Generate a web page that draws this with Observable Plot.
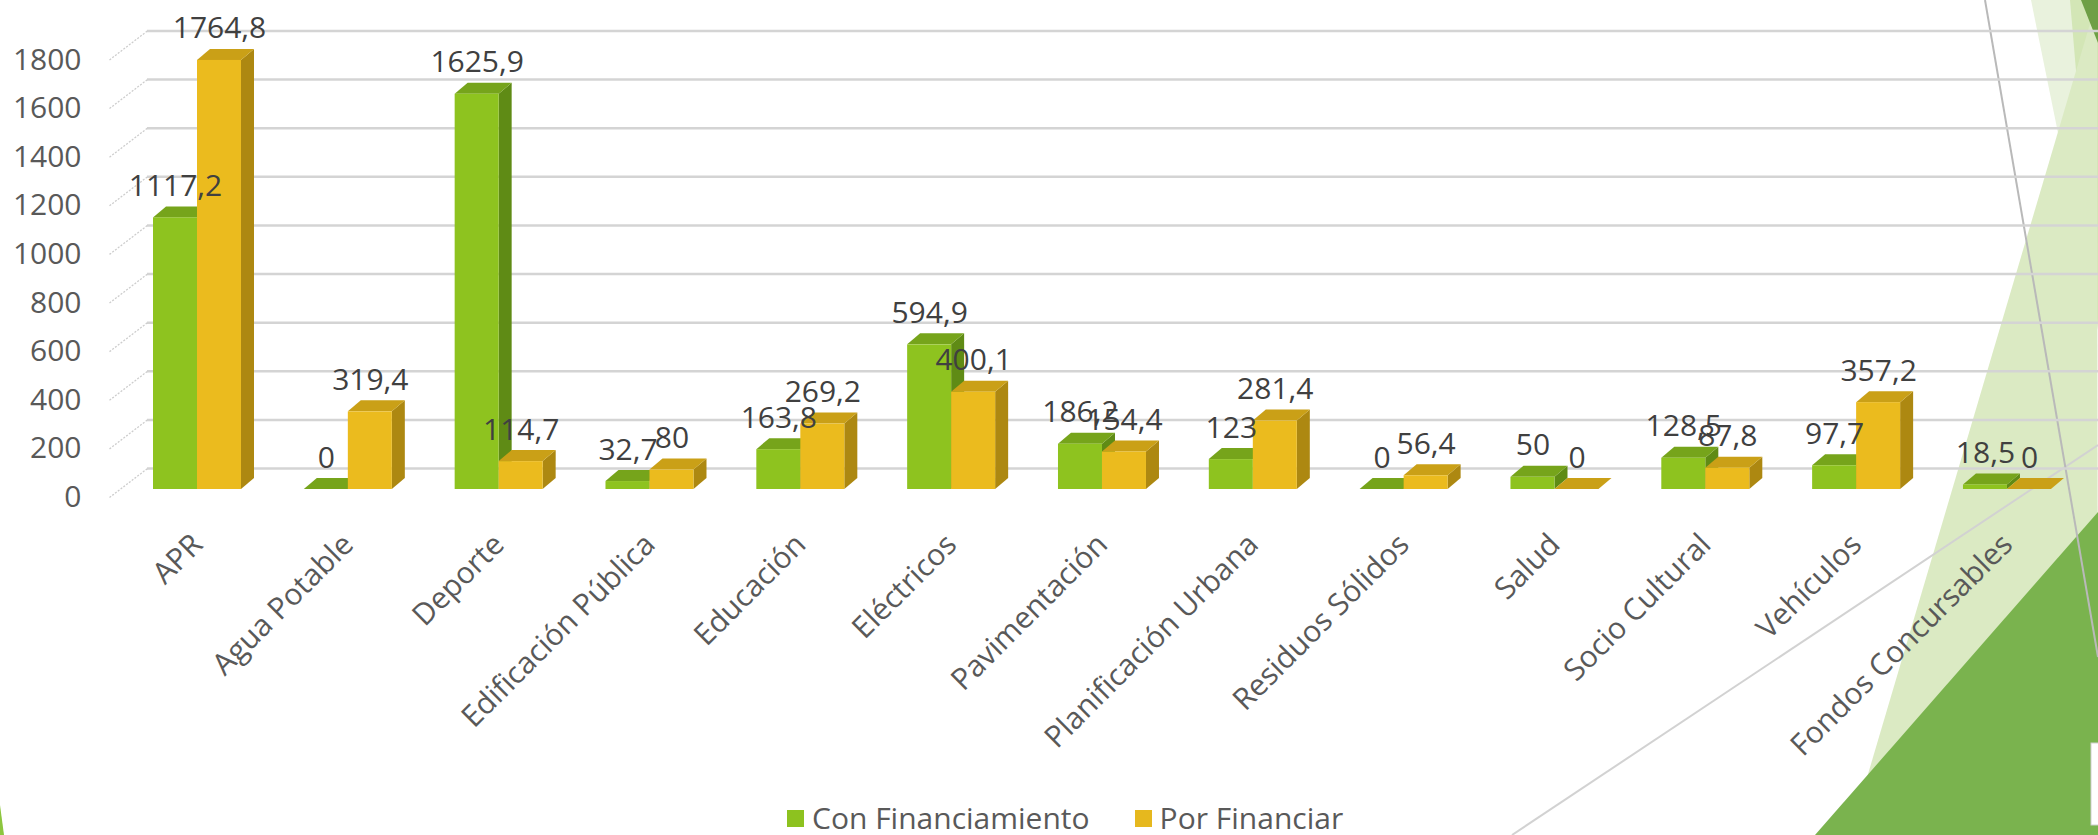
<!DOCTYPE html>
<html><head><meta charset="utf-8">
<script src="https://cdn.jsdelivr.net/npm/d3@7"></script>
<script src="https://cdn.jsdelivr.net/npm/@observablehq/plot@0.6"></script>
<style>
html,body{margin:0;padding:0;background:#fff;overflow:hidden;width:2098px;height:835px;}
#wrap{position:relative;width:2098px;height:835px;font-family:'Open Sans',sans-serif;}
#deco{position:absolute;left:0;top:0;}
#chart{position:absolute;left:0;top:0;}
#legend{position:absolute;left:787px;top:802px;display:flex;align-items:center;height:32px;line-height:32px;font-size:30px;color:#595959;white-space:nowrap;}
#legend .sw{width:17px;height:17px;margin-right:8px;}
#legend .item{display:flex;align-items:center;}
#legend .item + .item{margin-left:45px;}
</style></head>
<body>
<div id="wrap">
<svg id="deco" width="2098" height="835" viewBox="0 0 2098 835">
  <polygon points="2031,0 2098,0 2098,330" fill="#e9f2dd"/>
  <polygon points="2070,0 2098,0 2098,330" fill="#d3e6b6"/>
  <polygon points="2097,0 1850,835 2098,835" fill="#dbeac3"/>
  <polygon points="2081,0 2098,0 2098,43" fill="#6e9f45"/>
  <polygon points="1815,835 2098,512 2098,835" fill="#7ab34e"/>
  <line x1="1512" y1="835" x2="2098" y2="445" stroke="#d2d2d2" stroke-width="2"/>
  <line x1="1985" y1="0" x2="2098" y2="657" stroke="#b9b9b9" stroke-width="2"/>
  <rect x="2091" y="743" width="8" height="82" fill="#fff" stroke="#cfcfcf"/>
  <polygon points="0,805 4,835 0,835" fill="#8dc63f"/>
</svg>
<div id="chart"></div>
<div id="legend"></div>
</div>
<script>
// ---- data ----
const categories = ["APR", "Agua Potable", "Deporte", "Edificación Pública", "Educación", "Eléctricos", "Pavimentación", "Planificación Urbana", "Residuos Sólidos", "Salud", "Socio Cultural", "Vehículos", "Fondos Concursables"];
const conFinanciamiento = [1117.2, 0, 1625.9, 32.7, 163.8, 594.9, 186.2, 123, 0, 50, 128.5, 97.7, 18.5];
const porFinanciar = [1764.8, 319.4, 114.7, 80, 269.2, 400.1, 154.4, 281.4, 56.4, 0, 87.8, 357.2, 0];
const series = ["Con Financiamiento", "Por Financiar"];
const yTicks = [0, 200, 400, 600, 800, 1000, 1200, 1400, 1600, 1800];

// ---- styles / layout ----
const frontColors = ["#8ec31f", "#ebbb1e"];
const topColors = ["#76a41b", "#caa017"];
const sideColors = ["#5f8b15", "#ad8811"];
const legendColors = ["#8dc21f", "#e6b81e"];

const W = 2098, H = 795;
const marginLeft = 147, marginRight = 0, marginTop = 51.4, marginBottom = 306;
const catStep = 150.83;          // px per category
const firstCenter = 197;         // px of first category centre
const pxPerUnit = (H - marginBottom - marginTop) / 1800;
const barW = 44 / catStep;       // bar width in category units
const depthX = 13 / catStep;     // 3D depth (x) in category units
const depthY = 11 / pxPerUnit;   // 3D depth (y) in value units
const xDomain = [(marginLeft - firstCenter) / catStep, (W - marginRight - firstCenter) / catStep];

const values = [conFinanciamiento, porFinanciar];
const bars = [];
categories.forEach((c, i) => {
  values.forEach((arr, s) => {
    const x1 = s === 0 ? i - barW : i;
    bars.push({cat: c, i, s, v: arr[i], x1, x2: x1 + barW, key: i * 2 + s});
  });
});

const sidePts = bars.flatMap(b => [
  {key: b.key, s: b.s, x: b.x2, y1: 0, y2: b.v},
  {key: b.key, s: b.s, x: b.x2 + depthX, y1: depthY, y2: b.v + depthY}
]);
const topPts = bars.flatMap(b => [
  {key: b.key, s: b.s, x: b.x1, y1: b.v, y2: b.v},
  {key: b.key, s: b.s, x: b.x1 + depthX, y1: b.v, y2: b.v + depthY},
  {key: b.key, s: b.s, x: b.x2, y1: b.v, y2: b.v + depthY},
  {key: b.key, s: b.s, x: b.x2 + depthX, y1: b.v + depthY, y2: b.v + depthY}
]);

const fmt = v => String(v).replace(".", ",");

const chart = Plot.plot({
  width: W, height: H,
  marginLeft, marginRight, marginTop, marginBottom,
  x: {type: "linear", domain: xDomain},
  y: {domain: [0, 1800]},
  color: {type: "identity"},
  style: {background: "transparent", fontFamily: "'Open Sans', sans-serif", overflow: "visible"},
  marks: [
    // back-wall grid
    Plot.ruleY(yTicks, {y: d => d, dy: -21, stroke: "#d4d4d4", strokeWidth: 2.5}),
    // left-wall grid
    Plot.link(yTicks, {
      x1: (marginLeft - 38 - firstCenter) / catStep,
      x2: xDomain[0],
      y1: d => d - 8 / pxPerUnit,
      y2: d => d + 21 / pxPerUnit,
      stroke: "#cdcdcd", strokeWidth: 1.3, strokeDasharray: "2,1.5"
    }),
    Plot.areaY(sidePts, {x: "x", y1: "y1", y2: "y2", z: "key", fill: d => sideColors[d.s]}),
    Plot.areaY(topPts, {x: "x", y1: "y1", y2: "y2", z: "key", fill: d => topColors[d.s]}),
    Plot.rect(bars, {x1: "x1", x2: "x2", y1: 0, y2: "v", fill: d => frontColors[d.s]}),
    Plot.text(bars, {
      x: d => (d.x1 + d.x2) / 2, y: "v", text: d => fmt(d.v),
      dy: -22, lineAnchor: "bottom", fontSize: 30, fill: "#404040"
    }),
    Plot.axisY(yTicks, {tickSize: 0, tickPadding: 66, fontSize: 30, color: "#595959", dy: 8, tickFormat: d => String(d), label: null}),
    Plot.axisX(d3.range(categories.length), {
      tickSize: 0, tickPadding: 50, tickRotate: -45,
      tickFormat: i => categories[i], fontSize: 30, color: "#595959", label: null
    })
  ]
});
document.getElementById("chart").appendChild(chart);

const legend = document.getElementById("legend");
series.forEach((name, s) => {
  const item = document.createElement("div");
  item.className = "item";
  const sw = document.createElement("div");
  sw.className = "sw";
  sw.style.background = legendColors[s];
  const t = document.createElement("span");
  t.textContent = name;
  item.appendChild(sw); item.appendChild(t);
  legend.appendChild(item);
});
</script>
</body></html>
